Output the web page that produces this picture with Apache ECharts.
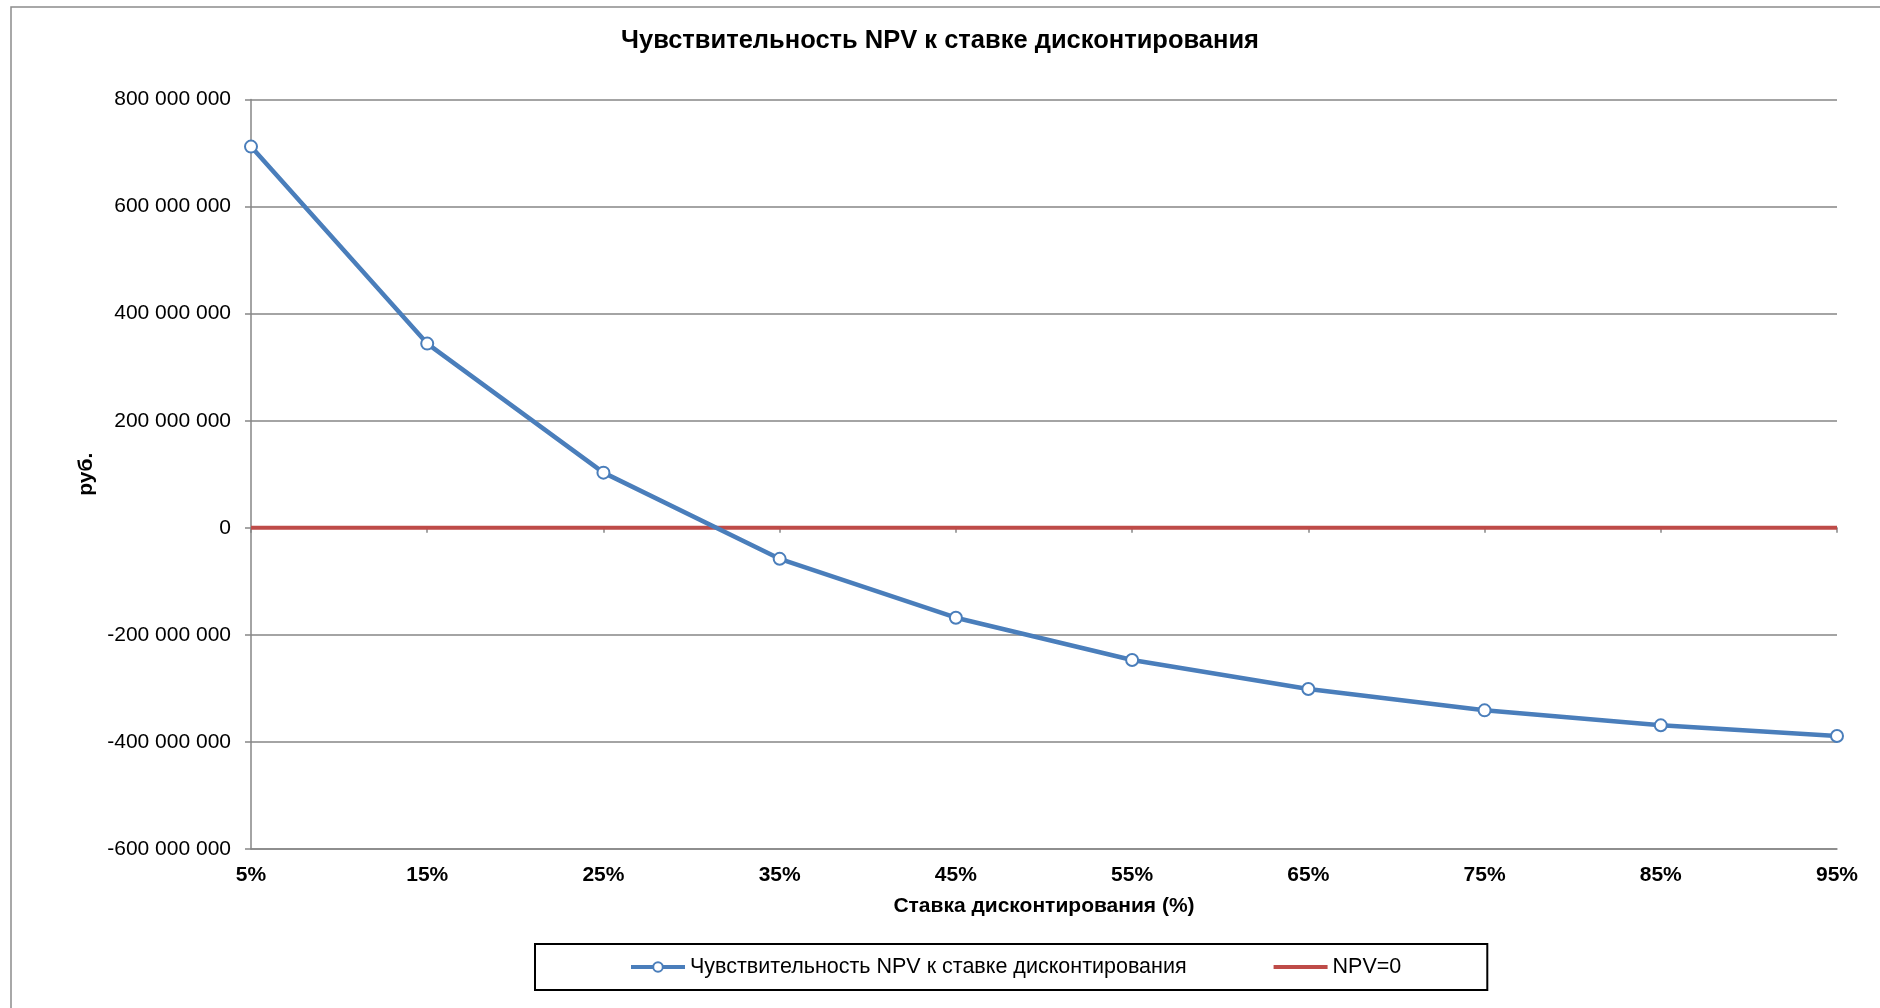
<!DOCTYPE html>
<html>
<head>
<meta charset="utf-8">
<script src="https://cdn.jsdelivr.net/npm/echarts@6/dist/echarts.min.js"></script>
<style>
  html, body { margin: 0; padding: 0; background: #fff; }
  #chart { width: 1880px; height: 1008px; }
</style>
</head>
<body>
<div id="chart"></div>
<script>
// ставки дисконтирования (категории по оси X)
const rates = ['5%', '15%', '25%', '35%', '45%', '55%', '65%', '75%', '85%', '95%'];
// NPV, руб.
const npvValues = [712000000, 344000000, 103000000, -58000000, -168000000, -247000000, -301000000, -341000000, -369000000, -389000000];
const zeroLine = [0, 0, 0, 0, 0, 0, 0, 0, 0, 0];

const font = 'Liberation Sans, Arial, sans-serif';
const gridGrey = '#868686';

function fmt(v) {
  const s = Math.abs(v).toString().replace(/\B(?=(\d{3})+(?!\d))/g, ' ');
  return (v < 0 ? '-' : '') + s;
}

let chart = echarts.init(document.getElementById('chart'));
chart.setOption({
  animation: false,
  backgroundColor: '#fff',
  graphic: [{
    type: 'rect',
    shape: { x: 11, y: 7, width: 1900, height: 1100 },
    style: { fill: 'none', stroke: '#8c8c8c', lineWidth: 1.5 },
    silent: true
  }],
  title: {
    text: 'Чувствительность NPV к ставке дисконтирования',
    left: 'center',
    top: 28,
    padding: 0,
    textStyle: { fontFamily: font, fontSize: 25.5, fontWeight: 'bold', color: '#000', lineHeight: 26 }
  },
  legend: {
    left: 535,
    top: 944,
    padding: [12, 86, 12, 94],
    itemGap: 85,
    itemWidth: 54,
    itemHeight: 12,
    borderColor: '#000',
    borderWidth: 2,
    lineStyle: { width: 4 },
    textStyle: { fontFamily: font, fontSize: 21.5, color: '#000' },
    data: [
      { name: 'Чувствительность NPV к ставке дисконтирования' },
      { name: 'NPV=0', itemStyle: { opacity: 0 } }
    ]
  },
  grid: { left: 251, right: 43, top: 99.5, bottom: 159 },
  xAxis: [{
    type: 'category',
    data: rates,
    boundaryGap: false,
    position: 'bottom',
    name: 'Ставка дисконтирования (%)',
    nameLocation: 'middle',
    nameGap: 47,
    nameTextStyle: { fontFamily: font, fontSize: 21, fontWeight: 'bold', color: '#000' },
    axisLine: { onZero: false, lineStyle: { color: gridGrey, width: 1.5 } },
    axisTick: { show: false },
    axisLabel: { margin: 16, fontFamily: font, fontSize: 21, fontWeight: 'bold', color: '#000' }
  }, {
    type: 'category',
    data: rates,
    boundaryGap: false,
    position: 'bottom',
    axisLine: { onZero: true, lineStyle: { color: gridGrey, width: 1.5 } },
    axisTick: { show: true, length: 5, lineStyle: { color: gridGrey, width: 1.5 } },
    axisLabel: { show: false }
  }],
  yAxis: {
    type: 'value',
    min: -600000000,
    max: 800000000,
    interval: 200000000,
    name: 'руб.',
    nameLocation: 'middle',
    nameRotate: 90,
    nameGap: 150,
    nameTextStyle: { fontFamily: font, fontSize: 21, fontWeight: 'bold', color: '#000' },
    axisLine: { show: true, lineStyle: { color: gridGrey, width: 1.5 } },
    axisTick: { show: true, length: 6, lineStyle: { color: gridGrey, width: 1.5 } },
    axisLabel: { margin: 20, fontFamily: font, fontSize: 21, color: '#000', formatter: fmt },
    splitLine: { lineStyle: { color: gridGrey, width: 1.5 } }
  },
  series: [{
    name: 'Чувствительность NPV к ставке дисконтирования',
    type: 'line',
    data: npvValues,
    symbol: 'circle',
    symbolSize: 12,
    color: '#4A7EBB',
    lineStyle: { color: '#4A7EBB', width: 4.5 },
    itemStyle: { color: '#fff', borderColor: '#4A7EBB', borderWidth: 2 },
    z: 3
  }, {
    name: 'NPV=0',
    type: 'line',
    data: zeroLine,
    symbol: 'none',
    color: '#BE4B48',
    lineStyle: { color: '#BE4B48', width: 4 },
    z: 2
  }]
});
</script>
</body>
</html>
